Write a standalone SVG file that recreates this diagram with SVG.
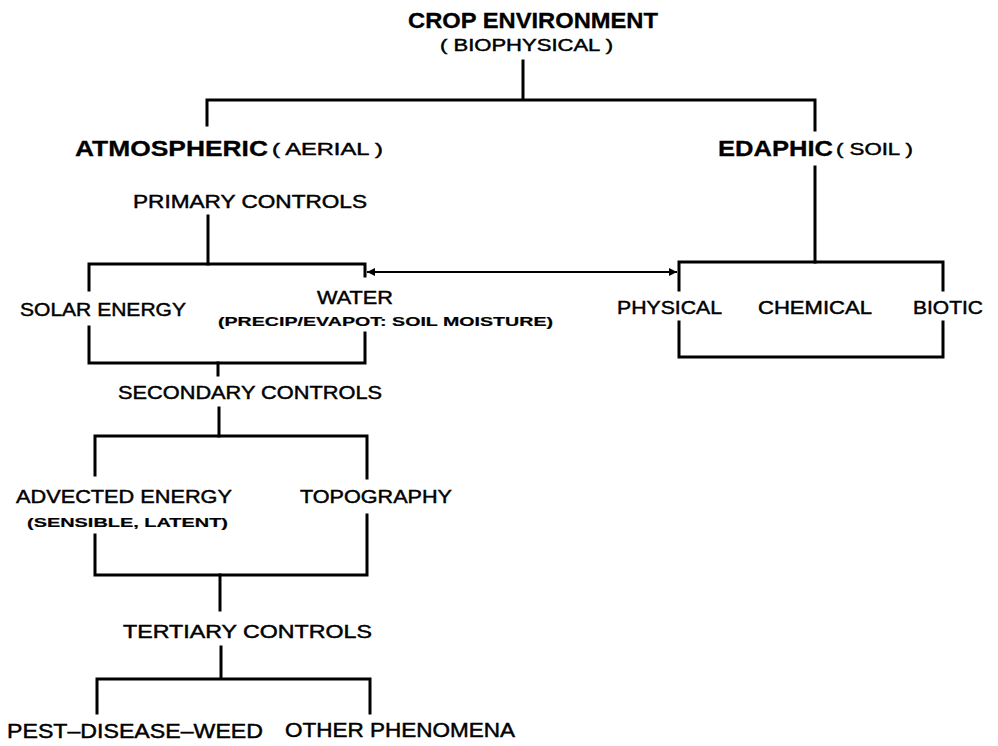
<svg xmlns="http://www.w3.org/2000/svg" width="998" height="746" viewBox="0 0 998 746">
<defs>
<style>
.ln{stroke:#000;stroke-width:3;fill:none;stroke-linecap:square}
.t{font-family:"Liberation Sans",Arial,sans-serif;fill:#000;stroke:#000;stroke-width:0.45}
.m{font-size:18.5px}
.h{font-size:22px;font-weight:bold;stroke-width:0.3}
.s{font-size:13px;font-weight:bold;stroke-width:0.2}
.p{font-size:17px}
</style>
<marker id="ah" viewBox="0 0 10 10" refX="10" refY="5" markerWidth="9" markerHeight="8" markerUnits="userSpaceOnUse" orient="auto-start-reverse">
<path d="M0,0 L10,5 L0,10 z" fill="#000"/>
</marker>
</defs>
<rect width="998" height="746" fill="#fff"/>

<g id="connectors">
<path class="ln" d="M523,61 V100 M207,100 H815 M207,100 V125 M815,100 V130"/>
<path class="ln" d="M815,167 V262"/>
<path class="ln" d="M208,216 V264"/>
<path class="ln" d="M218,363 V375 M219,408 V436"/>
<path class="ln" d="M220,575 V610"/>
<path class="ln" d="M221,647 V679 M97,679 H370 M97,679 V713 M370,679 V713"/>
<line x1="367" y1="272" x2="677" y2="272" stroke="#000" stroke-width="2" marker-start="url(#ah)" marker-end="url(#ah)"/>
</g>

<g id="crop-environment">
<text class="t h" x="408" y="28" textLength="250" lengthAdjust="spacingAndGlyphs">CROP ENVIRONMENT</text>
<text class="t p" x="440" y="51" textLength="173" lengthAdjust="spacingAndGlyphs">( BIOPHYSICAL )</text>
</g>

<g id="atmospheric">
<text class="t h" x="75" y="156" textLength="193" lengthAdjust="spacingAndGlyphs">ATMOSPHERIC</text>
<text class="t p" x="272" y="155" textLength="111" lengthAdjust="spacingAndGlyphs">( AERIAL )</text>
</g>

<g id="edaphic">
<text class="t h" x="718" y="156" textLength="115" lengthAdjust="spacingAndGlyphs">EDAPHIC</text>
<text class="t p" x="836" y="155" textLength="77" lengthAdjust="spacingAndGlyphs">( SOIL )</text>
</g>

<g id="primary-controls">
<text class="t m" x="133" y="208" textLength="234" lengthAdjust="spacingAndGlyphs">PRIMARY CONTROLS</text>
</g>

<g id="primary-box">
<path class="ln" d="M89,290 V264 H365 V276 M89,327 V363 H365 V333"/>
<text class="t m" x="20" y="316" textLength="166" lengthAdjust="spacingAndGlyphs">SOLAR ENERGY</text>
<text class="t m" x="317" y="304" textLength="76" lengthAdjust="spacingAndGlyphs">WATER</text>
<text class="t s" x="218" y="326" textLength="335" lengthAdjust="spacingAndGlyphs">(PRECIP/EVAPOT: SOIL MOISTURE)</text>
</g>

<g id="edaphic-box">
<path class="ln" d="M679,290 V262 H943 V290 M679,322 V357 H943 V322"/>
<text class="t m" x="617" y="314" textLength="105" lengthAdjust="spacingAndGlyphs">PHYSICAL</text>
<text class="t m" x="758" y="314" textLength="114" lengthAdjust="spacingAndGlyphs">CHEMICAL</text>
<text class="t m" x="913" y="314" textLength="70" lengthAdjust="spacingAndGlyphs">BIOTIC</text>
</g>

<g id="secondary-controls">
<text class="t m" x="118" y="399" textLength="264" lengthAdjust="spacingAndGlyphs">SECONDARY CONTROLS</text>
</g>

<g id="secondary-box">
<path class="ln" d="M95,475 V436 H367 V478 M95,535 V575 H367 V515"/>
<text class="t m" x="16" y="503" textLength="216" lengthAdjust="spacingAndGlyphs">ADVECTED ENERGY</text>
<text class="t s" x="27" y="527" textLength="201" lengthAdjust="spacingAndGlyphs">(SENSIBLE, LATENT)</text>
<text class="t m" x="300" y="503" textLength="152" lengthAdjust="spacingAndGlyphs">TOPOGRAPHY</text>
</g>

<g id="tertiary-controls">
<text class="t m" x="123" y="638" textLength="249" lengthAdjust="spacingAndGlyphs">TERTIARY CONTROLS</text>
</g>

<g id="pest-disease-weed">
<text class="t" x="7" y="738" font-size="20" textLength="256" lengthAdjust="spacingAndGlyphs">PEST–DISEASE–WEED</text>
</g>

<g id="other-phenomena">
<text class="t" x="285" y="737" font-size="19.5" textLength="230" lengthAdjust="spacingAndGlyphs">OTHER PHENOMENA</text>
</g>
</svg>
